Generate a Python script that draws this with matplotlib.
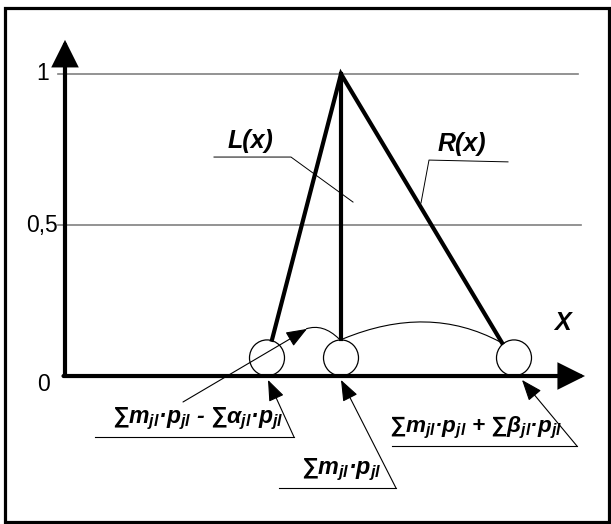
import matplotlib
matplotlib.use("Agg")
import matplotlib.pyplot as plt
from matplotlib.patches import Ellipse, Rectangle, PathPatch
from matplotlib.path import Path

plt.rcParams['font.family'] = ['Liberation Sans', 'DejaVu Sans']
plt.rcParams['mathtext.fontset'] = 'custom'
plt.rcParams['mathtext.it'] = 'Liberation Sans:bold:italic'
plt.rcParams['mathtext.rm'] = 'Liberation Sans:bold:italic'

# membership levels and their labels
levels = [0, 0.5, 1]
level_labels = ['0', '0,5', '1']

# fuzzy number: left foot, mean (apex), right foot
tri_x = [2.07, 2.76, 4.37]
tri_mu = [0.12, 1.0, 0.11]
# circled points on the x axis
point_x = [2.02, 2.76, 4.49]
point_mu = 0.06

# formula labels
lbl_left = r'∑$m_{jl}$·$p_{jl}$ - ∑$\alpha_{jl}$·$p_{jl}$'
lbl_mid = r'∑$m_{jl}$·$p_{jl}$'
lbl_right = r'∑$m_{jl}$·$p_{jl}$ + ∑$\beta_{jl}$·$p_{jl}$'

fig = plt.figure(figsize=(6.11, 5.24), dpi=100)
ax = fig.add_axes([0, 0, 1, 1])
ax.set_xlim(-0.65, 5.46)
ax.set_ylim(-0.490, 1.245)
ax.axis('off')

# outer frame
fig.patches.append(Rectangle((5 / 611, 2 / 524), 604 / 611, 514 / 524,
                             transform=fig.transFigure, fill=False,
                             lw=2.3, ec='black'))

# horizontal level lines
ax.plot([-0.07, 5.13], [1, 1], color='#808080', lw=1.2)
ax.plot([-0.07, 5.16], [0.5, 0.5], color='#808080', lw=1.2)

# axes with arrows
axis_arrow = dict(arrowstyle='-|>,head_length=1.5,head_width=0.75',
                  mutation_scale=10, lw=3, color='black',
                  shrinkA=0, shrinkB=0, joinstyle='miter')
ax.annotate('', xy=(0, 1.113), xytext=(0, 0), arrowprops=axis_arrow)
ax.annotate('', xy=(5.20, 0), xytext=(-0.015, 0), arrowprops=axis_arrow)

label_x = [-0.15, -0.075, -0.16]
label_dy = [-0.028, 0, 0]
for lv, lab, lx, dy in zip(levels, level_labels, label_x, label_dy):
    ax.text(lx, lv + dy, lab, fontsize=16.5, ha='right', va='center')

ax.text(4.97, 0.175, 'X', fontsize=18, fontweight='bold', style='italic',
        ha='center', va='center')

# membership function
ax.plot([tri_x[0], tri_x[1], tri_x[2]], [tri_mu[0], tri_mu[1], tri_mu[2]],
        color='black', lw=3, solid_joinstyle='miter')
ax.plot([tri_x[1], tri_x[1]], [tri_mu[1], 0.123], color='black', lw=3)

for px in point_x:
    ax.add_patch(Ellipse((px, point_mu), 0.35, 0.119, fill=False,
                         lw=0.9, ec='black'))

# connecting arcs
arc1 = Path([(2.41, 0.156), (2.58, 0.175), (2.74, 0.123)],
            [Path.MOVETO, Path.CURVE3, Path.CURVE3])
arc2 = Path([(2.78, 0.123), (3.635, 0.24), (4.35, 0.113)],
            [Path.MOVETO, Path.CURVE3, Path.CURVE3])
for p in (arc1, arc2):
    ax.add_patch(PathPatch(p, fill=False, lw=0.8, ec='black'))

# L(x) and R(x) leaders
ax.text(1.86, 0.778, 'L(x)', fontsize=18, fontweight='bold', style='italic',
        ha='center', va='center')
ax.plot([1.49, 2.26, 2.88], [0.725, 0.725, 0.576], color='black', lw=0.7)
ax.text(3.97, 0.768, 'R(x)', fontsize=18, fontweight='bold', style='italic',
        ha='center', va='center')
ax.plot([4.43, 3.64, 3.56], [0.709, 0.715, 0.573], color='black', lw=0.7)

small_arrow = dict(arrowstyle='-|>,head_length=1.3,head_width=0.5',
                   mutation_scale=10, lw=0.8, color='black',
                   shrinkA=0, shrinkB=0)

# arrow to the arc
ax.annotate('', xy=(2.42, 0.156), xytext=(1.18, -0.086),
            arrowprops=small_arrow)

# formula leaders
leaders = [
    (lbl_left, 0.30, 2.29, -0.202, (2.03, -0.013), 1.33, 16.6),
    (lbl_mid, 2.14, 3.31, -0.371, (2.76, -0.013), 2.76, 16.8),
    (lbl_right, 3.27, 5.12, -0.232, (4.57, -0.013), 4.11, 16.2),
]
for txt, x0, x1, y, tip, tx, fs in leaders:
    ax.plot([x0, x1], [y, y], color='black', lw=0.8)
    ax.annotate('', xy=tip, xytext=(x1, y), arrowprops=small_arrow)
    ax.text(tx, y + 0.018, txt, fontsize=fs, fontweight='bold',
            style='italic', ha='center', va='bottom')

fig.savefig('out.png', dpi=100)
